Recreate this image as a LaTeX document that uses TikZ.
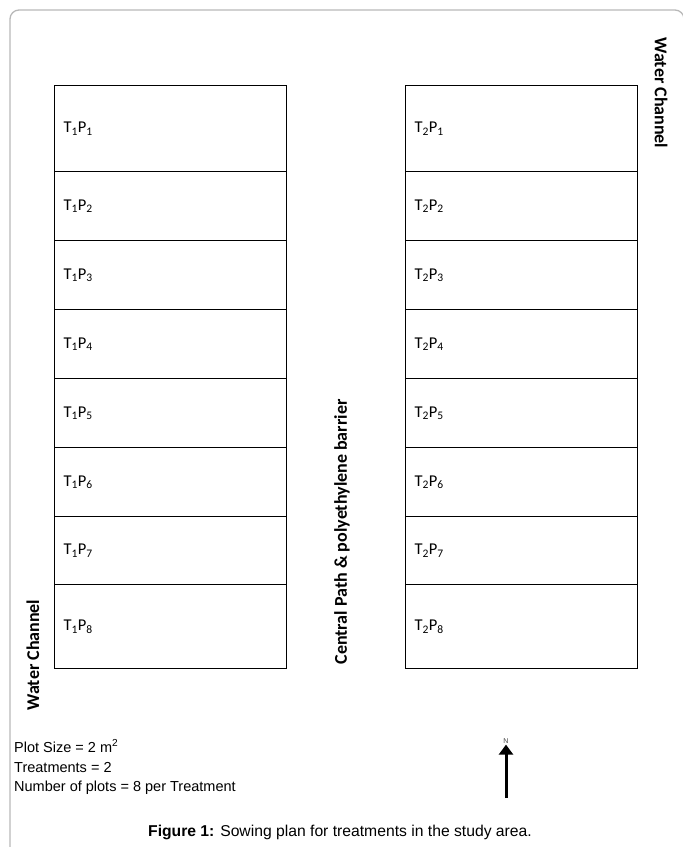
\documentclass[tikz,border=0pt]{standalone}
\usepackage{fontspec}
\setmainfont{Liberation Sans}
\newfontfamily\plotfont{Carlito}
\usetikzlibrary{arrows.meta}

\begin{document}
\begin{tikzpicture}[x=1pt,y=-1pt,>={Triangle[length=10pt,width=14pt]},
  plot/.style={draw,line width=1.1pt,minimum width=232pt,text width=214pt,inner xsep=9pt,inner ysep=0pt,align=left,anchor=north west,font=\plotfont\fontsize{16.5}{18}\selectfont},
  channel/.style={font=\plotfont\bfseries\fontsize{18}{20}\selectfont},
  note/.style={anchor=west,inner sep=0pt,font=\fontsize{14.5}{17}\selectfont}]
\useasboundingbox (0,0) rectangle (683,847);
\draw[black!28,line width=1.3pt,rounded corners=9pt] (10,900) -- (10,10) -- (684,10) -- (684,900);
\foreach \n/\ya/\hh in {1/85/86,2/171/69,3/240/69,4/309/69,5/378/69,6/447/69,7/516/68,8/584/84}{
  \node[plot,minimum height=\hh pt] (t1p\n) at (54,\ya) {T\textsubscript{1}P\textsubscript{\n}};
  \node[plot,minimum height=\hh pt] (t2p\n) at (405,\ya) {T\textsubscript{2}P\textsubscript{\n}};
}
\node[channel,rotate=90] (wcleft) at (33,655) {Water Channel};
\node[channel,rotate=-90] (wcright) at (661,93) {Water Channel};
\node[channel,rotate=90] (path) at (342,532) {Central Path \& polyethylene barrier};
\node[note] (size) at (14,746) {Plot Size = 2 m\textsuperscript{2}};
\node[note] (treat) at (14,767) {Treatments = 2};
\node[note] (count) at (14,788) {Number of plots = 8 per Treatment};
\node[inner sep=1pt,text=black!75,font=\fontsize{7}{8}\selectfont] (north) at (506,741) {N};
\coordinate (ntail) at (506,798);
\draw[->,line width=3pt] (ntail) -- (north.south);
\node[font=\fontsize{15.7}{18}\selectfont] (caption) at (340,832) {\textbf{Figure 1:} Sowing plan for treatments in the study area.};
\end{tikzpicture}
\end{document}
